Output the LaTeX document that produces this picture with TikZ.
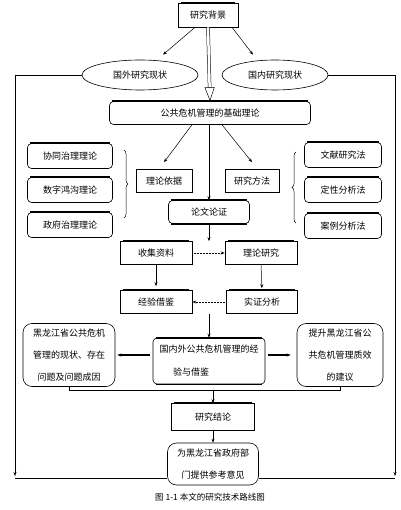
\documentclass[tikz,border=0pt]{standalone}
\usepackage{fontspec}
\newfontfamily\cjk{Noto Sans CJK SC}
\usetikzlibrary{shapes.geometric, arrows.meta, decorations.pathreplacing, calc}

\begin{document}
\begin{tikzpicture}[
    x=1pt, y=-1pt,
    >={Stealth[length=4pt, width=3pt]},
    font=\cjk\fontsize{9}{13}\selectfont,
    plainbox/.style={draw, line width=0.6pt, inner sep=1pt, minimum height=23pt},
    roundbox/.style={plainbox, rounded corners=4pt},
    bigbox/.style={draw, line width=0.6pt, rounded corners=9pt, align=center,
        font=\cjk\fontsize{9}{22}\selectfont},
    oval/.style={draw, ellipse, line width=0.6pt, minimum height=30pt},
    link/.style={->, line width=0.5pt},
    hollow/.style={double, double distance=2.5pt, line width=0.5pt,
        -{Triangle[open, length=14pt, width=10pt]}}
]
    \useasboundingbox (0,0) rectangle (400,510);

    % Background and the two surveys
    \node[plainbox, minimum width=60pt, minimum height=24pt] (bg) at (208,15) {研究背景};
    \node[oval, minimum width=116pt] (abroad) at (140,75) {国外研究现状};
    \node[oval, minimum width=106pt] (home) at (275,75) {国内研究现状};
    \node[roundbox, minimum width=201pt] (base) at (210,113) {公共危机管理的基础理论};

    \draw[link] ([xshift=-13pt]bg.south) -- ([xshift=23pt, yshift=5pt]abroad.north);
    \draw[link] ([xshift=24pt]bg.south) -- ([xshift=-22pt, yshift=5pt]home.north);
    \draw[hollow] (bg.south) -- (base.north);

    % Theories (left) and methods (right)
    \foreach \nm/\txt/\y in {xtl/协同治理理论/156, szt/数字鸿沟理论/190, zftl/政府治理理论/225} {
        \node[roundbox, minimum width=85pt, minimum height=25pt] (\nm) at (70,\y) {\txt};
    }
    \foreach \nm/\txt/\y in {wx/文献研究法/155, dx/定性分析法/190, al/案例分析法/226} {
        \node[roundbox, minimum width=77pt, minimum height=25pt] (\nm) at (343,\y) {\txt};
    }
    \node[plainbox, minimum width=56pt] (basis) at (164,181) {理论依据};
    \node[plainbox, minimum width=54pt] (method) at (252,181) {研究方法};
    \node[roundbox, minimum width=81pt] (lwlz) at (209,212) {论文论证};

    \draw[decorate, decoration={brace, amplitude=4pt}, line width=0.5pt] (124,150) -- (124,218);
    \draw[decorate, decoration={brace, amplitude=4pt}, line width=0.5pt] (296,223) -- (296,152);

    \draw[link] ([xshift=-18pt]base.south) -- ([yshift=7pt]basis.north);
    \draw[link] ([xshift=12pt]base.south) -- ([yshift=7pt]method.north);
    \draw[link] (base.south -| lwlz.north) -- (lwlz.north);

    % Data and analysis
    \node[plainbox, minimum width=72pt] (collect) at (156,253) {收集资料};
    \node[plainbox, minimum width=72pt] (theory) at (261,253) {理论研究};
    \node[plainbox, minimum width=72pt] (exp) at (156,302) {经验借鉴};
    \node[plainbox, minimum width=71pt] (empir) at (262,302) {实证分析};

    \draw[link] (lwlz.south) -- (lwlz.south |- collect.north);
    \draw[link, densely dotted, line width=1pt] (collect) -- (theory);
    \draw[link, shorten >=4pt] (collect.south) -- (exp.north);
    \draw[link, shorten >=2pt] (theory.south) -- (empir.north);
    \draw[link, densely dotted] (empir) -- (exp);

    % Experience, status and suggestions
    \node[roundbox, minimum width=112pt, minimum height=46pt, align=left,
        font=\cjk\fontsize{9}{23}\selectfont] (mid) at (209,361)
        {国内外公共危机管理的经\\\hspace*{1.5em}验与借鉴};
    \node[bigbox, minimum width=92pt, minimum height=63pt] (leftbig) at (69,355)
        {黑龙江省公共危机\\管理的现状、存在\\问题及问题成因};
    \node[bigbox, minimum width=86pt, minimum height=63pt] (rightbig) at (340,355)
        {提升黑龙江省公\\共危机管理质效\\的建议};

    \draw[link] (mid.north |- exp.south) -- (mid.north);
    \draw[link, line width=1.2pt, shorten <=3pt, shorten >=2pt] (mid.west |- leftbig.east) -- (leftbig.east);
    \draw[link, line width=1.2pt, shorten <=3pt, shorten >=6pt] (mid.east |- rightbig.west) -- (rightbig.west);

    % Conclusion
    \node[plainbox, minimum width=83pt, minimum height=27pt] (concl) at (213,417) {研究结论};
    \node[bigbox, minimum width=91pt, minimum height=42pt] (final) at (213,464)
        {为黑龙江省政府部\\门提供参考意见};

    \draw[line width=0.5pt] (leftbig.south) -- ++(0,3) coordinate (jl) -| (rightbig.south);
    \draw[link] (jl -| concl.north) -- (concl.north);
    \draw[link] (concl.south) -- (final.north);

    % Feedback from the surveys
    \coordinate (cornerL) at (15,478);
    \coordinate (cornerR) at (395,478);
    \draw[link] (abroad.west) -| ([yshift=2pt]cornerL);
    \draw[link] (home.east) -| ([yshift=2pt]cornerR);
    \draw[line width=0.5pt] (cornerL) -- (final.west |- cornerL);
    \draw[line width=0.5pt] (final.east |- cornerR) -- (cornerR);

    % Shadow edges
    \foreach \nm in {bg, base, xtl, szt, zftl, wx, dx, al, lwlz, collect, theory, exp, empir, mid, concl} {
        \draw[line width=1.6pt] ([xshift=3pt]\nm.north west) -- ([xshift=-3pt]\nm.north east);
    }
    \foreach \nm in {lwlz, mid} {
        \draw[line width=1.6pt] ([xshift=3pt]\nm.south west) -- ([xshift=-3pt]\nm.south east);
    }

    % Caption
    \node[font=\cjk\fontsize{8.5}{11}\selectfont] (caption) at (210,497) {图 1-1\ 本文的研究技术路线图};
\end{tikzpicture}
\end{document}
